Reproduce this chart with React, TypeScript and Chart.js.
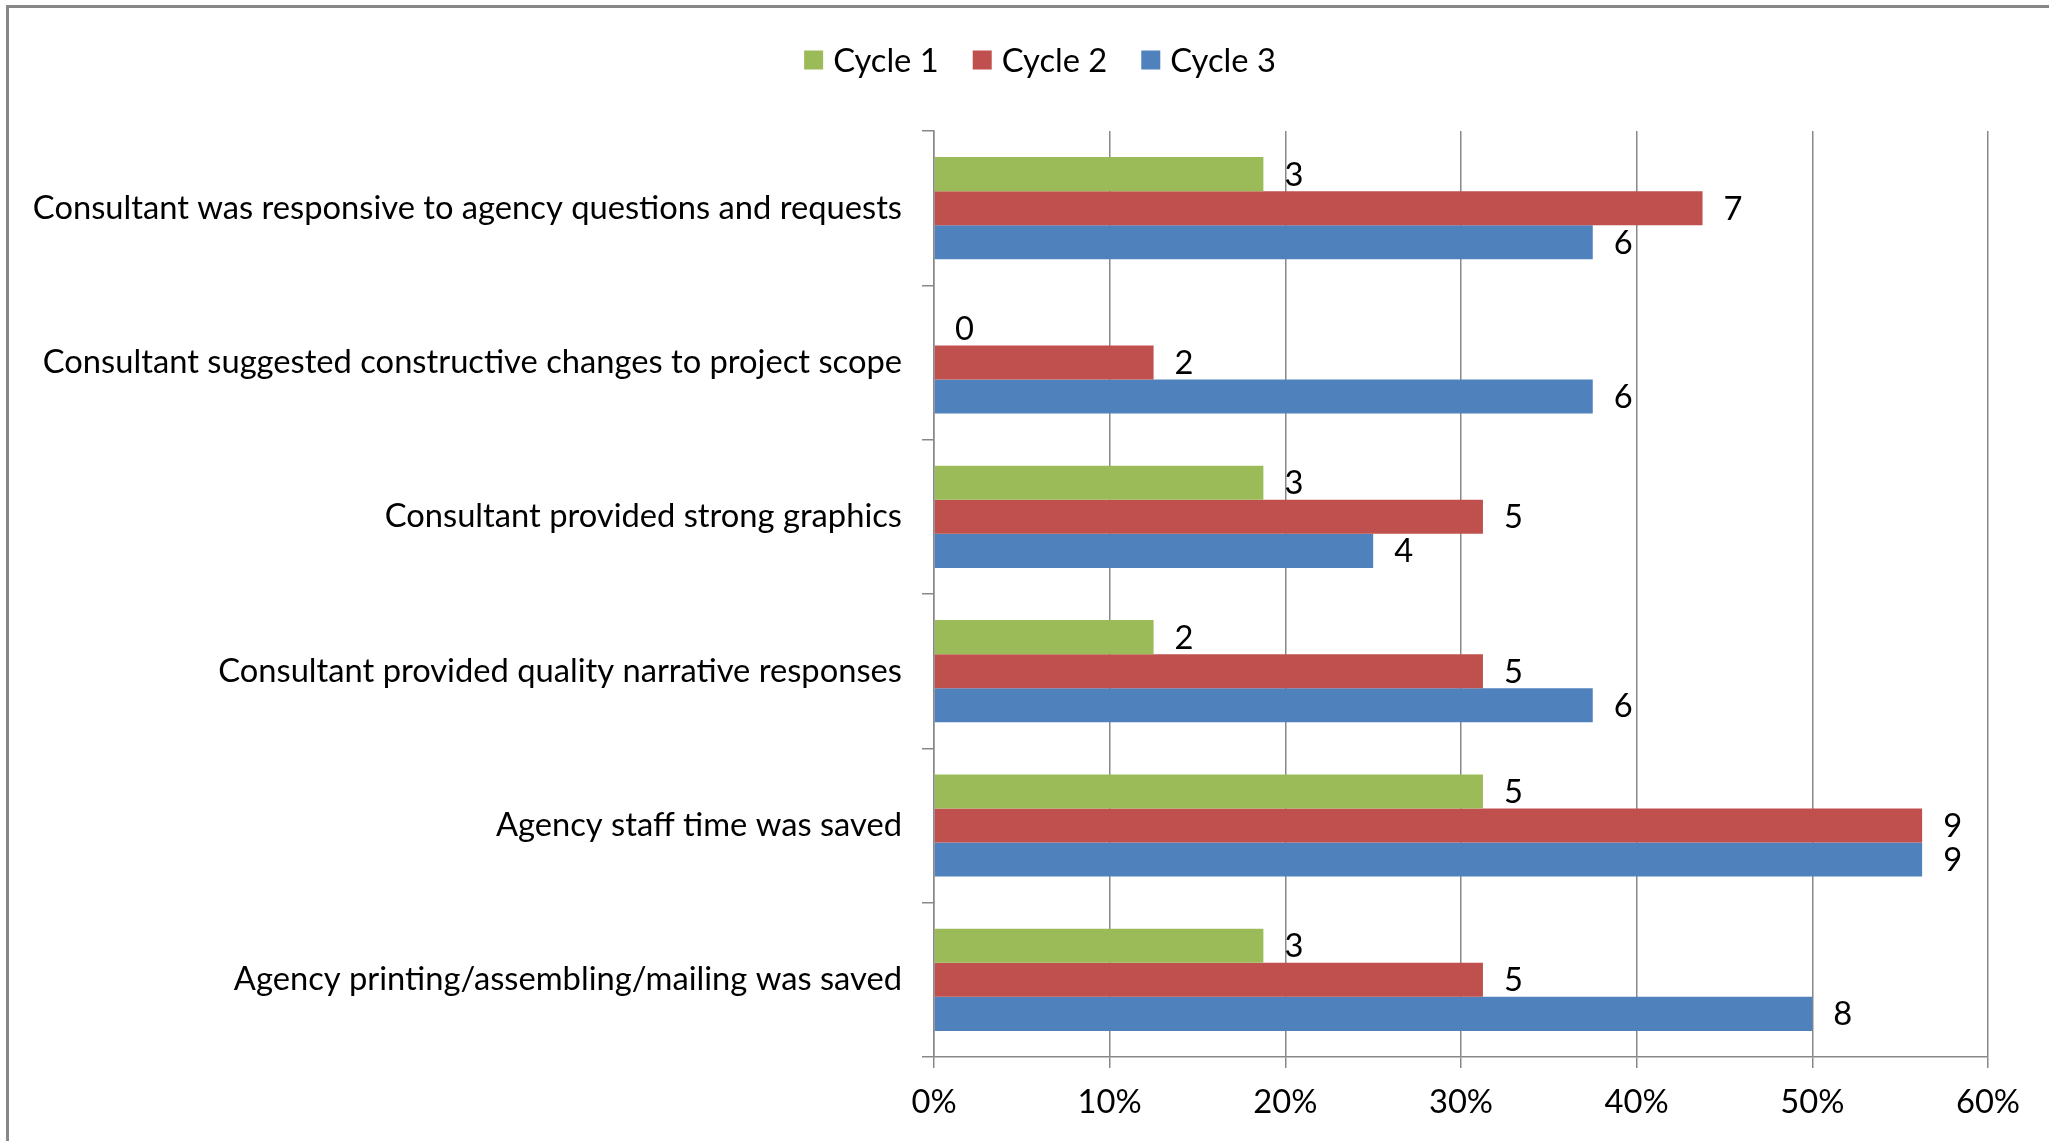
import React, { useEffect, useRef } from 'react';
import { Chart, registerables } from 'chart.js';

Chart.register(...registerables);

const categories = [
  'Consultant was responsive to agency questions and requests',
  'Consultant suggested constructive changes to project scope',
  'Consultant provided strong graphics',
  'Consultant provided quality narrative responses',
  'Agency staff time was saved',
  'Agency printing/assembling/mailing was saved',
];
const seriesNames = ['Cycle 1', 'Cycle 2', 'Cycle 3'];
const cycle1Counts = [3, 0, 3, 2, 5, 3];
const cycle2Counts = [7, 2, 5, 5, 9, 5];
const cycle3Counts = [6, 6, 4, 6, 9, 8];
const respondents = 16;
const xTickValues = [0, 10, 20, 30, 40, 50, 60];
const seriesColors = ['#9BBB59', '#C0504D', '#4F81BD'];

const FONT_FAMILY = 'Lato, "Noto Sans", sans-serif';
const FONT_SIZE = 32.7;
const W = 2049;
const H = 1141;

const countsList = [cycle1Counts, cycle2Counts, cycle3Counts];

const framePlugin = {
  id: 'frame',
  beforeDraw(chart: any) {
    const ctx = chart.ctx;
    ctx.save();
    ctx.fillStyle = '#ffffff';
    ctx.fillRect(0, 0, chart.width, chart.height);
    ctx.strokeStyle = '#878787';
    ctx.lineWidth = 3;
    ctx.beginPath();
    ctx.moveTo(7.5, chart.height);
    ctx.lineTo(7.5, 6.5);
    ctx.lineTo(chart.width, 6.5);
    ctx.stroke();
    ctx.restore();
  },
};

const dataLabelPlugin = {
  id: 'countLabels',
  afterDatasetsDraw(chart: any) {
    const ctx = chart.ctx;
    ctx.save();
    ctx.font = `${FONT_SIZE}px ${FONT_FAMILY}`;
    ctx.fillStyle = '#000000';
    ctx.textAlign = 'left';
    ctx.textBaseline = 'middle';
    chart.data.datasets.forEach((_ds: any, i: number) => {
      const meta = chart.getDatasetMeta(i);
      meta.data.forEach((bar: any, j: number) => {
        ctx.fillText(String(countsList[i][j]), bar.x + 21, bar.y + 1);
      });
    });
    ctx.restore();
  },
};

const legendPlugin = {
  id: 'customLegend',
  afterDraw(chart: any) {
    const ctx = chart.ctx;
    ctx.save();
    ctx.font = `${FONT_SIZE}px ${FONT_FAMILY}`;
    const box = 19;
    const boxGap = 10;
    const itemGap = 34;
    const widths = seriesNames.map((n) => ctx.measureText(n).width);
    const total =
      widths.reduce((a, b) => a + b, 0) + seriesNames.length * (box + boxGap) + (seriesNames.length - 1) * itemGap;
    let x = 1040 - total / 2;
    const cy = 60;
    ctx.textAlign = 'left';
    ctx.textBaseline = 'middle';
    seriesNames.forEach((name, i) => {
      ctx.fillStyle = seriesColors[i];
      ctx.fillRect(x, cy - box / 2, box, box);
      x += box + boxGap;
      ctx.fillStyle = '#000000';
      ctx.fillText(name, x, cy + 1);
      x += widths[i] + itemGap;
    });
    ctx.restore();
  },
};

export default function App() {
  const canvasRef = useRef<HTMLCanvasElement | null>(null);

  useEffect(() => {
    const canvas = canvasRef.current;
    if (!canvas) return;
    Chart.defaults.font.family = FONT_FAMILY;
    Chart.defaults.font.size = FONT_SIZE;
    Chart.defaults.color = '#000000';

    const chart = new Chart(canvas, {
      type: 'bar',
      data: {
        labels: categories,
        datasets: countsList.map((counts, i) => ({
          label: seriesNames[i],
          data: counts.map((c) => (c / respondents) * 100),
          backgroundColor: seriesColors[i],
          borderWidth: 0,
          categoryPercentage: 0.662,
          barPercentage: 1,
        })),
      },
      options: {
        indexAxis: 'y',
        responsive: false,
        animation: false,
        devicePixelRatio: 1,
        layout: { padding: { top: 131, left: 0, right: 61, bottom: 0 } },
        plugins: {
          legend: { display: false },
          tooltip: { enabled: false },
        },
        scales: {
          x: {
            min: 0,
            max: 60,
            afterBuildTicks(scale: any) {
              scale.ticks = xTickValues.map((v) => ({ value: v }));
            },
            afterFit(scale: any) {
              scale.height = 84;
            },
            ticks: {
              padding: 15,
              color: '#000000',
              font: { size: FONT_SIZE, family: FONT_FAMILY },
              callback: (v: any) => `${v}%`,
            },
            grid: {
              color: '#888888',
              lineWidth: 1.5,
              tickLength: 11,
              drawOnChartArea: true,
              drawTicks: true,
            },
            border: { display: true, color: '#888888', width: 1.5 },
          },
          y: {
            afterFit(scale: any) {
              scale.width = 934;
            },
            ticks: {
              padding: 20,
              color: '#000000',
              font: { size: FONT_SIZE, family: FONT_FAMILY },
            },
            grid: {
              offset: true,
              drawOnChartArea: false,
              drawTicks: true,
              tickLength: 12,
              color: '#888888',
              lineWidth: 1.5,
            },
            border: { display: true, color: '#888888', width: 1.5 },
          },
        },
      },
      plugins: [framePlugin, dataLabelPlugin, legendPlugin],
    } as any);

    return () => {
      chart.destroy();
    };
  }, []);

  return (
    <div style={{ position: 'fixed', left: 0, top: 0, width: W, height: H, background: '#ffffff' }}>
      <canvas ref={canvasRef} width={W} height={H} style={{ display: 'block', width: W, height: H }} />
    </div>
  );
}
